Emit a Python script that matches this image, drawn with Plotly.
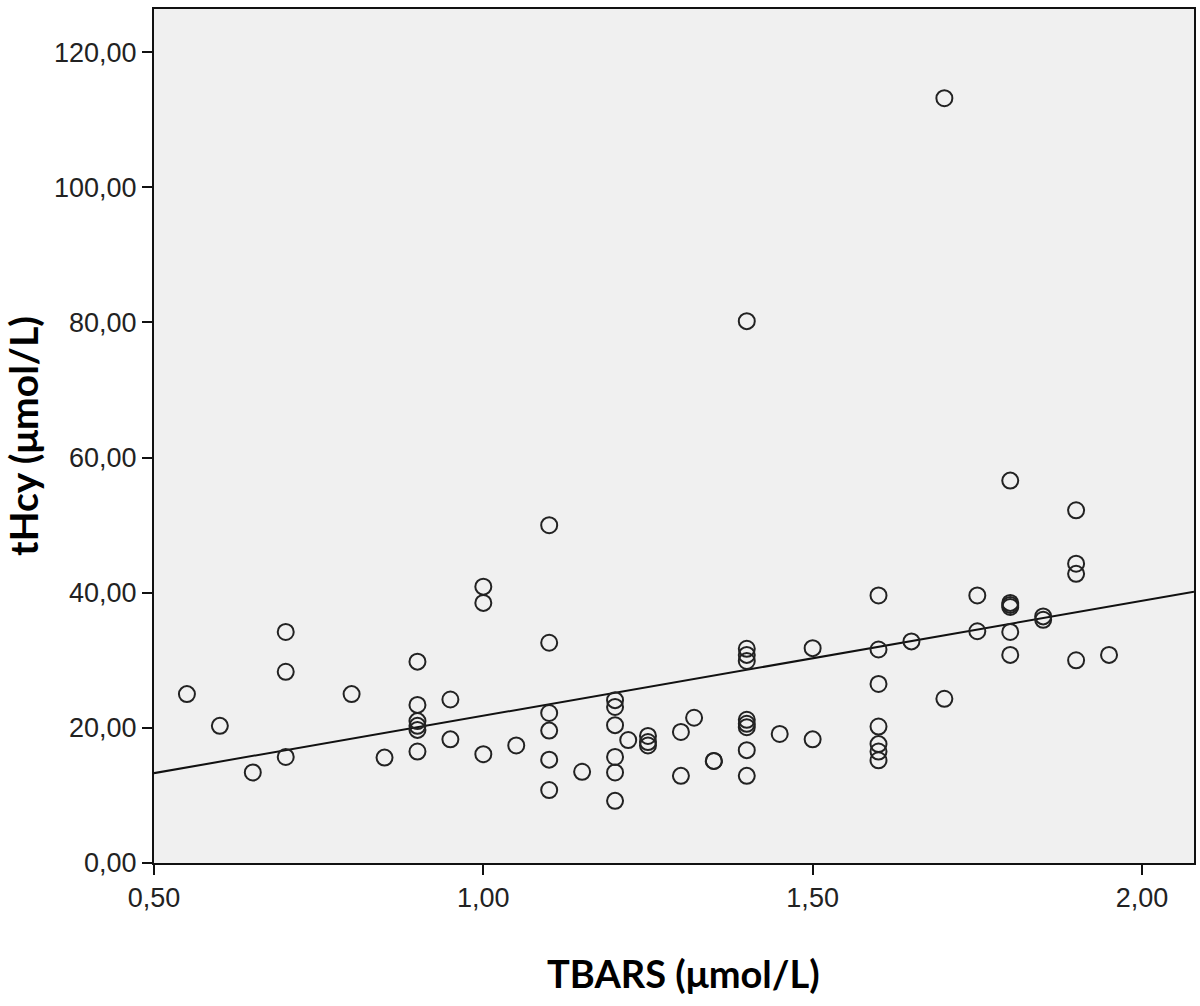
import plotly.graph_objects as go

tbars = [0.55, 0.60, 0.65, 0.70, 0.70, 0.70, 0.80, 0.85,
         0.90, 0.90, 0.90, 0.90, 0.90, 0.90, 0.95, 0.95,
         1.00, 1.00, 1.00, 1.05,
         1.10, 1.10, 1.10, 1.10, 1.10, 1.10, 1.15,
         1.20, 1.20, 1.20, 1.20, 1.20, 1.20, 1.22,
         1.25, 1.25, 1.25, 1.30, 1.30, 1.32, 1.35, 1.35,
         1.40, 1.40, 1.40, 1.40, 1.40, 1.40, 1.40, 1.40, 1.40,
         1.45, 1.50, 1.50,
         1.60, 1.60, 1.60, 1.60, 1.60, 1.60, 1.60, 1.65,
         1.70, 1.70, 1.75, 1.75,
         1.80, 1.80, 1.80, 1.80, 1.80, 1.80, 1.85, 1.85,
         1.90, 1.90, 1.90, 1.90, 1.95]
thcy = [25.0, 20.3, 13.4, 34.2, 28.3, 15.7, 25.0, 15.6,
        29.8, 23.4, 21.0, 20.3, 19.7, 16.5, 24.2, 18.3,
        40.9, 38.5, 16.1, 17.4,
        50.0, 32.6, 22.2, 19.6, 15.3, 10.8, 13.5,
        24.1, 23.1, 20.4, 15.7, 13.4, 9.2, 18.2,
        18.8, 17.9, 17.4, 19.4, 12.9, 21.5, 15.1, 15.1,
        80.2, 31.7, 30.8, 29.9, 21.2, 20.6, 20.1, 16.7, 12.9,
        19.1, 31.8, 18.3,
        39.6, 31.6, 26.5, 20.2, 17.6, 16.5, 15.2, 32.8,
        113.2, 24.3, 39.6, 34.3,
        56.6, 38.5, 38.2, 37.9, 34.2, 30.8, 36.5, 36.0,
        52.2, 44.3, 42.8, 30.0, 30.8]

# Linear fit line: tHcy = intercept + slope * TBARS
fit_intercept = 4.8
fit_slope = 17.0
x_range = [0.5, 2.079]
y_range = [0, 126.4]
x_ticks = [0.5, 1.0, 1.5, 2.0]
y_ticks = [0, 20, 40, 60, 80, 100, 120]

fit_x = x_range
fit_y = [fit_intercept + fit_slope * v for v in fit_x]

fig = go.Figure()
fig.add_trace(go.Scatter(
    x=fit_x, y=fit_y, mode="lines",
    line=dict(color="#111111", width=2), showlegend=False, hoverinfo="skip"))
fig.add_trace(go.Scatter(
    x=tbars, y=thcy, mode="markers",
    marker=dict(symbol="circle-open", size=16, color="#222222",
                line=dict(width=2, color="#222222")),
    showlegend=False))

axis_common = dict(
    showgrid=False, zeroline=False, showline=True, linecolor="#111111",
    linewidth=2, mirror=True, ticks="outside", ticklen=10, tickwidth=2,
    tickcolor="#111111", tickformat=".2f",
    tickfont=dict(family="Liberation Sans, Arial", size=27, color="#222222"),
)

fig.update_layout(
    width=1200, height=1006,
    margin=dict(l=154, r=4, t=9, b=143),
    paper_bgcolor="white", plot_bgcolor="#f0f0f0",
    separators=",.",
    xaxis=dict(range=x_range, tickvals=x_ticks, **axis_common),
    yaxis=dict(range=y_range, tickvals=y_ticks,
               title=dict(text="<b>tHcy (μmol/L)</b>", standoff=10,
                          font=dict(family="Lato, Open Sans", size=39, color="black")),
               **axis_common),
    annotations=[dict(
        text="<b>TBARS (μmol/L)</b>", xref="paper", yref="paper",
        x=0.509, y=-0.1, xanchor="center", yanchor="top", showarrow=False,
        font=dict(family="Lato, Open Sans", size=38, color="black"))],
)

fig.write_html(
    "out.html",
    config={"displayModeBar": False},
    post_script="document.body.style.margin='0';document.body.style.overflow='hidden';",
)
